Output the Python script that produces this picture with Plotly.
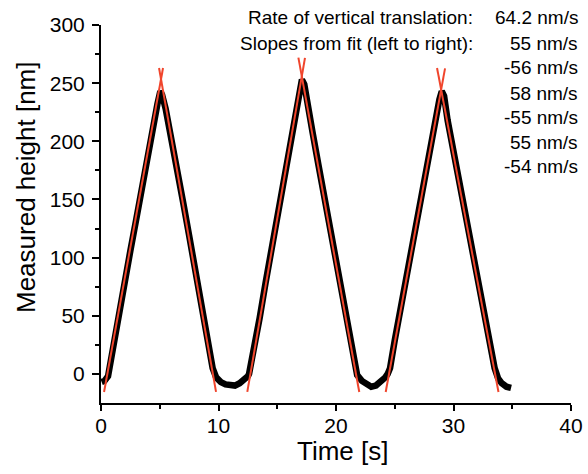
import plotly.graph_objects as go

# ---------------- data ----------------
# measured height (black trace)
time_s = [0.05, 0.3, 0.6, 1.0, 1.5, 2.0, 2.5, 3.0, 3.5, 4.0, 4.5, 4.8, 5.05, 5.2, 5.5,
          6.0, 6.5, 7.0, 7.5, 8.0, 8.5, 9.0, 9.5, 9.8, 10.2, 10.6, 11.0, 11.4, 11.8, 12.2, 12.5,
          12.6, 13.0, 13.5, 14.0, 14.5, 15.0, 15.5, 16.0, 16.5, 16.9, 17.1, 17.3, 17.5,
          18.0, 18.5, 19.0, 19.5, 20.0, 20.5, 21.0, 21.5, 21.8, 22.2, 22.6, 23.0, 23.4, 23.8, 24.2, 24.4,
          24.6, 25.0, 25.5, 26.0, 26.5, 27.0, 27.5, 28.0, 28.5, 28.8, 29.0, 29.2, 29.5,
          30.0, 30.5, 31.0, 31.5, 32.0, 32.5, 33.0, 33.5, 33.8, 34.1, 34.5, 34.9]
height_nm = [-7, -6, -2, 22, 51, 80, 106, 133, 162, 190, 216, 232, 243, 240, 228,
             203, 176, 147, 119, 90, 61, 33, 5, -3, -7, -9, -10, -10, -8, -5, -2,
             0, 19, 48, 78, 107, 136, 165, 194, 222, 245, 253, 249, 235,
             208, 180, 153, 125, 97, 69, 41, 13, -1, -6, -9, -11, -10, -7, -3, 0,
             5, 29, 57, 85, 112, 140, 167, 195, 221, 236, 243, 239, 218,
             191, 164, 138, 111, 85, 58, 31, 5, -4, -8, -11, -12]

# linear fits (red), start/end points of each fitted segment
fit_t_start = [0.26, 4.94, 12.45, 16.80, 24.23, 28.60]
fit_y_start = [-15.5, 263.0, -15.5, 272.0, -15.5, 263.0]
fit_t_end = [5.28, 9.79, 17.36, 21.98, 29.28, 33.83]
fit_y_end = [263.0, -15.5, 271.7, -15.5, 262.7, -15.5]

# annotation texts
label_lines = ["Rate of vertical translation:", "Slopes from fit (left to right):"]
value_lines = ["64.2 nm/s", "55 nm/s", "-56 nm/s", "58 nm/s", "-55 nm/s", "55 nm/s", "-54 nm/s"]

x_ticks = [0, 10, 20, 30, 40]
y_ticks = [0, 50, 100, 150, 200, 250, 300]

# ---------------- figure ----------------
W, H = 588, 474
L, R, T, B = 101, 17, 25, 71
FONT = "Liberation Sans, Arial, sans-serif"


def px_x(p):
    return (p - L) / (W - L - R)


def px_y(p):
    return (H - B - p) / (H - T - B)


fig = go.Figure()
fig.add_trace(go.Scatter(x=time_s, y=height_nm, mode="lines",
                         line=dict(color="black", width=6.5),
                         showlegend=False, hoverinfo="skip"))
for i in range(len(fit_t_start)):
    fig.add_trace(go.Scatter(x=[fit_t_start[i], fit_t_end[i]],
                             y=[fit_y_start[i], fit_y_end[i]],
                             mode="lines", line=dict(color="#f0452c", width=2),
                             showlegend=False, hoverinfo="skip"))

annotations = []
row_y = [17, 43, 68, 93, 117, 142, 166]
for i, t in enumerate(label_lines):
    annotations.append(dict(text=t, xref="paper", yref="paper", x=px_x(475), y=px_y(row_y[i]),
                            xanchor="right", yanchor="middle", showarrow=False,
                            font=dict(family=FONT, size=19, color="black")))
for i, t in enumerate(value_lines):
    annotations.append(dict(text=t, xref="paper", yref="paper", x=px_x(580), y=px_y(row_y[i]),
                            xanchor="right", yanchor="middle", showarrow=False,
                            font=dict(family=FONT, size=19, color="black")))
annotations.append(dict(text="Time [s]", xref="paper", yref="paper", x=px_x(342), y=px_y(451),
                        xanchor="center", yanchor="middle", showarrow=False,
                        font=dict(family=FONT, size=26, color="black")))
annotations.append(dict(text="Measured height [nm]", xref="paper", yref="paper", x=px_x(26), y=px_y(188),
                        xanchor="center", yanchor="middle", showarrow=False, textangle=-90,
                        font=dict(family=FONT, size=26, color="black")))

fig.update_layout(
    width=W, height=H,
    margin=dict(l=L, r=R, t=T, b=B, autoexpand=False),
    paper_bgcolor="white", plot_bgcolor="white",
    font=dict(family=FONT, color="black"),
    annotations=annotations,
    xaxis=dict(range=[0, 40], tickvals=x_ticks, showgrid=False, zeroline=False, automargin=False,
               showline=True, linecolor="black", linewidth=2,
               ticks="outside", ticklen=6, tickwidth=1.5, tickcolor="black",
               ticklabelstandoff=-3,
               tickfont=dict(family=FONT, size=21, color="black"),
               minor=dict(tickvals=[5, 15, 25, 35], ticks="outside", ticklen=4,
                          tickwidth=1.5, tickcolor="black", showgrid=False)),
    yaxis=dict(range=[-25, 300], tickvals=y_ticks, showgrid=False, zeroline=False, automargin=False,
               showline=True, linecolor="black", linewidth=2,
               ticks="outside", ticklen=7, tickwidth=1.5, tickcolor="black",
               ticklabelstandoff=3,
               tickfont=dict(family=FONT, size=21, color="black"),
               minor=dict(tickvals=[25, 75, 125, 175, 225, 275], ticks="outside", ticklen=4,
                          tickwidth=1.5, tickcolor="black", showgrid=False)),
)

fig.write_html("out.html")
